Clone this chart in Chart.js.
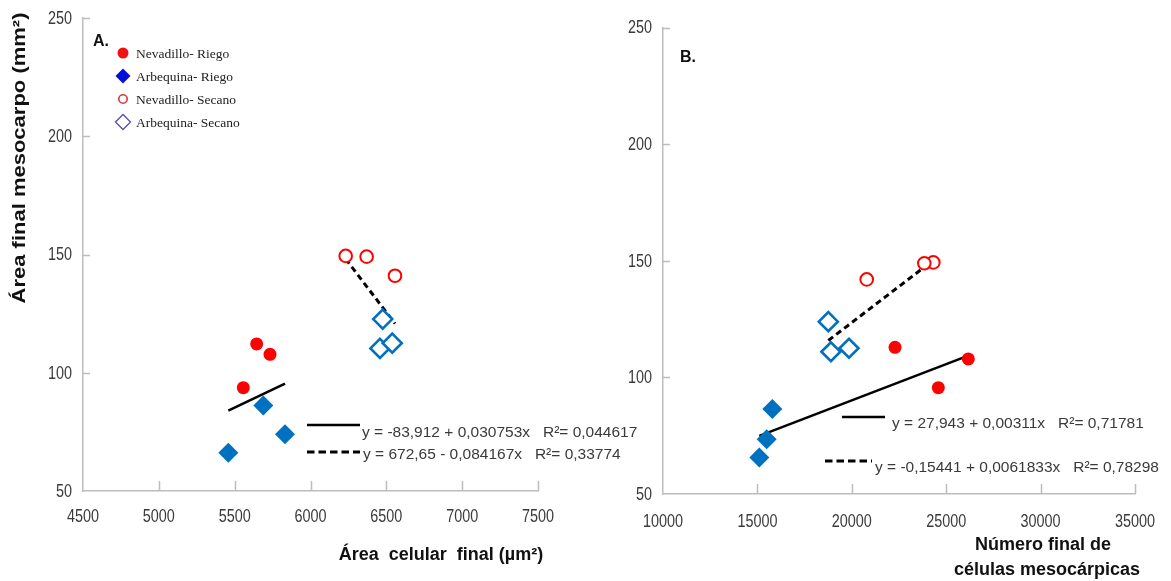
<!DOCTYPE html>
<html>
<head>
<meta charset="utf-8">
<script src="https://cdn.jsdelivr.net/npm/chart.js@4.4.1/dist/chart.umd.min.js"></script>
<style>
  html, body { margin: 0; padding: 0; background: #fff; }
  #wrap { position: relative; width: 1171px; height: 581px; overflow: hidden; background: #fff; }
  canvas { position: absolute; top: 0; }
  #cA { left: 0; }
  #cB { left: 600px; }
</style>
</head>
<body>
<div id="wrap">
  <canvas id="cA" width="640" height="581"></canvas>
  <canvas id="cB" width="571" height="581"></canvas>
</div>
<script>
// ---------- data ----------
const seriesNames = ['Nevadillo- Riego', 'Arbequina- Riego', 'Nevadillo- Secano', 'Arbequina- Secano'];

// Panel A: final cell area (µm²) against final mesocarp area (mm²)
const cellArea_NevRiego   = [5645, 5733, 5557];
const mesoA_NevRiego      = [112.2, 107.8, 93.7];
const cellArea_ArbRiego   = [5689, 5832, 5458];
const mesoA_ArbRiego      = [86.1, 74.0, 66.2];
const cellArea_NevSecano  = [6232, 6370, 6557];
const mesoA_NevSecano     = [149.4, 149.1, 141.0];
const cellArea_ArbSecano  = [6476, 6458, 6539];
const mesoA_ArbSecano     = [122.7, 110.3, 112.5];

// Panel B: final number of mesocarp cells against final mesocarp area (mm²)
const cellCount_NevRiego  = [22289, 26172, 24583];
const mesoB_NevRiego      = [112.9, 107.9, 95.6];
const cellCount_ArbRiego  = [15790, 15493, 15101];
const mesoB_ArbRiego      = [86.4, 73.5, 65.7];
const cellCount_NevSecano = [20790, 24318, 23841];
const mesoB_NevSecano     = [142.0, 149.3, 148.9];
const cellCount_ArbSecano = [18756, 18893, 19852];
const mesoB_ArbSecano     = [123.9, 111.0, 112.5];

// Linear fits [intercept, slope] and R²
const fitA_Riego  = [-83.912, 0.030753];  const r2A_Riego  = 0.044617;
const fitA_Secano = [672.65, -0.084167];  const r2A_Secano = 0.33774;
const fitB_Riego  = [27.943, 0.00311];    const r2B_Riego  = 0.71781;
const fitB_Secano = [-0.15441, 0.0061833]; const r2B_Secano = 0.78298;

// Tick values
const xTicksA = [4500, 5000, 5500, 6000, 6500, 7000, 7500];
const xTicksB = [10000, 15000, 20000, 25000, 30000, 35000];
const yTicks  = [50, 100, 150, 200, 250];

// ---------- styling ----------
const RED = '#ff0000';
const BLUE = '#0070c0';
const AXIS = '#bdbdbd';
const TICK_TXT = '#3a3a3a';
const SANS = '"Liberation Sans", Arial, Helvetica, sans-serif';
const SERIF = '"Liberation Serif", "Times New Roman", serif';
const TICK_FONT = '18px ' + SANS;
const NARROW = 0.8;   // horizontal squeeze for the condensed tick numerals

// ---------- helpers ----------
const pts = (xs, ys) => xs.map((x, i) => ({ x, y: ys[i] }));
function fitLine(xs, coef) {
  const lo = Math.min(...xs), hi = Math.max(...xs);
  return [lo, hi].map(x => ({ x, y: coef[0] + coef[1] * x }));
}
const fmt = v => String(v).replace('.', ',');
function eqText(coef) {
  return 'y = ' + fmt(coef[0]) + (coef[1] < 0 ? ' - ' : ' + ') + fmt(Math.abs(coef[1])) + 'x';
}
const r2Text = r => 'R\u00B2= ' + fmt(r);

function txt(ctx, s, x, y, font, color, align, sx) {
  ctx.save();
  ctx.font = font;
  ctx.fillStyle = color;
  ctx.textBaseline = 'middle';
  ctx.textAlign = align || 'left';
  ctx.translate(x, y);
  ctx.scale(sx || 1, 1);
  ctx.fillText(s, 0, 0);
  ctx.restore();
}
function keyLine(ctx, x0, x1, y, dashed) {
  ctx.save();
  ctx.strokeStyle = '#000';
  ctx.lineWidth = dashed ? 3 : 2.5;
  ctx.setLineDash(dashed ? [7.5, 4] : []);
  ctx.beginPath(); ctx.moveTo(x0, y); ctx.lineTo(x1, y); ctx.stroke();
  ctx.restore();
}

function seriesDatasets(nr, ar, ns, as, riegoFit, secanoFit) {
  return [
    { label: seriesNames[0], data: nr, pointStyle: 'circle', pointRadius: 6.5,
      backgroundColor: RED, borderColor: RED, borderWidth: 0, order: 0 },
    { label: seriesNames[1], data: ar, pointStyle: 'rectRot', pointRadius: 10,
      backgroundColor: BLUE, borderColor: BLUE, borderWidth: 0, order: 0 },
    { label: seriesNames[2], data: ns, pointStyle: 'circle', pointRadius: 6.3,
      backgroundColor: '#ffffff', borderColor: RED, borderWidth: 2, order: 0 },
    { label: seriesNames[3], data: as, pointStyle: 'rectRot', pointRadius: 9.5,
      backgroundColor: '#ffffff', borderColor: BLUE, borderWidth: 2.6, order: 0 },
    { type: 'line', label: 'Riego', data: riegoFit, borderColor: '#000', borderWidth: 2.5,
      pointRadius: 0, fill: false, order: 1 },
    { type: 'line', label: 'Secano', data: secanoFit, borderColor: '#000', borderWidth: 3,
      borderDash: [6, 4], pointRadius: 0, fill: false, order: 1 }
  ];
}

// Inner tick marks plus condensed tick numerals, placed with the chart's scales
const axisDecor = {
  id: 'axisDecor',
  beforeDatasetsDraw(chart, args, opts) {
    const { ctx, chartArea: a, scales: { x, y } } = chart;
    ctx.save();
    ctx.strokeStyle = AXIS;
    ctx.lineWidth = 1.5;
    ctx.beginPath();
    x.ticks.forEach((t, i) => {
      if (i === 0) return;
      const px = Math.round(x.getPixelForValue(t.value)) + 0.5;
      ctx.moveTo(px, a.bottom); ctx.lineTo(px, a.bottom - 10);
    });
    y.ticks.forEach((t, i) => {
      if (i === 0) return;
      const py = Math.round(y.getPixelForValue(t.value)) + 0.5;
      ctx.moveTo(a.left, py); ctx.lineTo(a.left + 7, py);
    });
    ctx.stroke();
    ctx.restore();

    x.ticks.forEach(t => {
      txt(ctx, String(t.value), x.getPixelForValue(t.value), a.bottom + opts.xLabelGap,
          TICK_FONT, TICK_TXT, 'center', NARROW);
    });
    y.ticks.forEach(t => {
      txt(ctx, String(t.value), a.left - 11, y.getPixelForValue(t.value) + 1,
          TICK_FONT, TICK_TXT, 'right', NARROW);
    });
  }
};

function makePanel(id, xTicks, dsets, geo, deco) {
  return new Chart(document.getElementById(id), {
    type: 'scatter',
    data: { datasets: dsets },
    options: {
      responsive: false, animation: false, devicePixelRatio: 1,
      layout: { padding: { left: 0, top: geo.top, right: geo.right, bottom: 0 } },
      plugins: {
        legend: { display: false }, tooltip: { enabled: false },
        axisDecor: { xLabelGap: geo.xLabelGap }
      },
      scales: {
        x: {
          type: 'linear', min: xTicks[0], max: xTicks[xTicks.length - 1],
          afterBuildTicks: s => { s.ticks = xTicks.map(v => ({ value: v })); },
          afterFit: s => { s.height = geo.xh; },
          grid: { display: false, drawTicks: false },
          border: { color: AXIS, width: 1.5 },
          ticks: { display: false }
        },
        y: {
          type: 'linear', min: yTicks[0], max: yTicks[yTicks.length - 1],
          afterBuildTicks: s => { s.ticks = yTicks.map(v => ({ value: v })); },
          afterFit: s => { s.width = geo.yw; },
          grid: { display: false, drawTicks: false },
          border: { color: AXIS, width: 1.5 },
          ticks: { display: false }
        }
      }
    },
    plugins: [axisDecor, { id: 'deco', afterDraw: deco }]
  });
}

// ---------- panel A ----------
const legendMarks = [
  { shape: 'dot',  color: '#ee1111' },
  { shape: 'dia',  color: '#0010d8', fill: true },
  { shape: 'ring', color: '#d23a3a' },
  { shape: 'dia',  color: '#5a4fa3', fill: false }
];

function drawA(chart) {
  const ctx = chart.ctx;
  txt(ctx, 'A.', 93, 42, 'bold 16px ' + SANS, '#111');
  // legend
  const rows = [53, 76, 99, 122];
  legendMarks.forEach((m, i) => {
    const cx = 123, cy = rows[i];
    ctx.save();
    ctx.beginPath();
    if (m.shape === 'dot') {
      ctx.arc(cx, cy, 5.5, 0, Math.PI * 2); ctx.fillStyle = m.color; ctx.fill();
    } else if (m.shape === 'ring') {
      ctx.arc(cx, cy, 4.2, 0, Math.PI * 2); ctx.strokeStyle = m.color; ctx.lineWidth = 1.6; ctx.stroke();
    } else {
      ctx.moveTo(cx - 7.5, cy); ctx.lineTo(cx, cy - 7.5); ctx.lineTo(cx + 7.5, cy); ctx.lineTo(cx, cy + 7.5); ctx.closePath();
      if (m.fill) { ctx.fillStyle = m.color; ctx.fill(); }
      else { ctx.strokeStyle = m.color; ctx.lineWidth = 1.3; ctx.stroke(); }
    }
    ctx.restore();
    txt(ctx, chart.data.datasets[i].label, 136, cy + 1, '13.5px ' + SERIF, '#222');
  });
  // fit key
  keyLine(ctx, 307, 360, 425, false);
  txt(ctx, eqText(fitA_Riego) + '   ' + r2Text(r2A_Riego), 362, 433, '15.5px ' + SANS, '#3a3a3a');
  keyLine(ctx, 307, 360, 452, true);
  txt(ctx, eqText(fitA_Secano) + '   ' + r2Text(r2A_Secano), 363, 455, '15.5px ' + SANS, '#3a3a3a');
  // axis titles
  ctx.save();
  ctx.translate(20, 158);
  ctx.rotate(-Math.PI / 2);
  ctx.scale(1, 0.8);
  ctx.font = 'bold 22px ' + SANS;
  ctx.fillStyle = '#111';
  ctx.textAlign = 'center';
  ctx.textBaseline = 'middle';
  ctx.fillText('\u00C1rea final mesocarpo (mm\u00B2)', 0, 0);
  ctx.restore();
  txt(ctx, '\u00C1rea  celular  final (\u00B5m\u00B2)', 441, 555, 'bold 18px ' + SANS, '#111', 'center');
}

makePanel('cA', xTicksA,
  seriesDatasets(
    pts(cellArea_NevRiego, mesoA_NevRiego),
    pts(cellArea_ArbRiego, mesoA_ArbRiego),
    pts(cellArea_NevSecano, mesoA_NevSecano),
    pts(cellArea_ArbSecano, mesoA_ArbSecano),
    fitLine(cellArea_NevRiego.concat(cellArea_ArbRiego), fitA_Riego),
    fitLine(cellArea_NevSecano.concat(cellArea_ArbSecano), fitA_Secano)),
  { top: 18, right: 640 - 538, xh: 581 - 491, yw: 83, xLabelGap: 26 },
  drawA);

// ---------- panel B ----------
const OX = 600; // canvas offset on the page
function drawB(chart) {
  const ctx = chart.ctx;
  txt(ctx, 'B.', 680 - OX, 58, 'bold 16px ' + SANS, '#111');
  keyLine(ctx, 842 - OX, 885 - OX, 417, false);
  txt(ctx, eqText(fitB_Riego) + '   ' + r2Text(r2B_Riego), 892 - OX, 424, '15.5px ' + SANS, '#3a3a3a');
  keyLine(ctx, 825 - OX, 872 - OX, 461, true);
  txt(ctx, eqText(fitB_Secano) + '   ' + r2Text(r2B_Secano), 875 - OX, 468, '15.5px ' + SANS, '#3a3a3a');
  txt(ctx, 'N\u00FAmero final de', 1043 - OX, 545, 'bold 18px ' + SANS, '#111', 'center');
  txt(ctx, 'c\u00E9lulas mesoc\u00E1rpicas', 1047 - OX, 570, 'bold 18px ' + SANS, '#111', 'center');
}

makePanel('cB', xTicksB,
  seriesDatasets(
    pts(cellCount_NevRiego, mesoB_NevRiego),
    pts(cellCount_ArbRiego, mesoB_ArbRiego),
    pts(cellCount_NevSecano, mesoB_NevSecano),
    pts(cellCount_ArbSecano, mesoB_ArbSecano),
    fitLine(cellCount_NevRiego.concat(cellCount_ArbRiego), fitB_Riego),
    fitLine(cellCount_NevSecano.concat(cellCount_ArbSecano), fitB_Secano)),
  { top: 27.5, right: 1171 - 1135, xh: 581 - 494, yw: 663 - OX, xLabelGap: 28 },
  drawB);
</script>
</body>
</html>
